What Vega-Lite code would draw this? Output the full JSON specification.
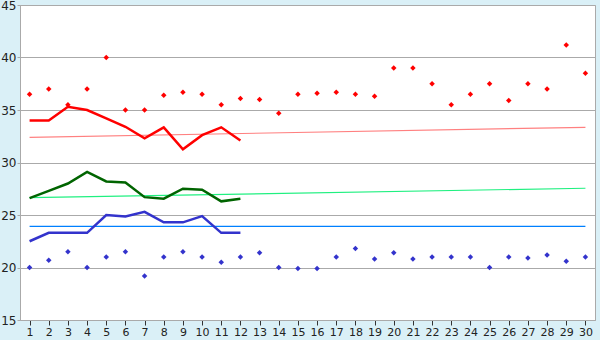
{
  "$schema": "https://vega.github.io/schema/vega-lite/v6.json",
  "width": 575,
  "height": 315,
  "padding": {"left": 20, "top": 5, "right": 5, "bottom": 20},
  "autosize": {"type": "none"},
  "background": "#daf0f7",
  "view": {"fill": "#ffffff", "stroke": "#aaaaaa", "strokeWidth": 1},
  "config": {
    "font": "DejaVu Sans",
    "axis": {"labelFont": "DejaVu Sans", "labelFontSize": 12, "labelColor": "#222222", "domainColor": "#aaaaaa", "tickColor": "#666666", "gridColor": "#aaaaaa", "gridOpacity": 1}
  },
  "datasets": {
    "days": [
      {"day": 1, "max": 36.5, "min": 20.0},
      {"day": 2, "max": 37.0, "min": 20.7},
      {"day": 3, "max": 35.5, "min": 21.5},
      {"day": 4, "max": 37.0, "min": 20.0},
      {"day": 5, "max": 40.0, "min": 21.0},
      {"day": 6, "max": 35.0, "min": 21.5},
      {"day": 7, "max": 35.0, "min": 19.2},
      {"day": 8, "max": 36.4, "min": 21.0},
      {"day": 9, "max": 36.7, "min": 21.5},
      {"day": 10, "max": 36.5, "min": 21.0},
      {"day": 11, "max": 35.5, "min": 20.5},
      {"day": 12, "max": 36.1, "min": 21.0},
      {"day": 13, "max": 36.0, "min": 21.4},
      {"day": 14, "max": 34.7, "min": 20.0},
      {"day": 15, "max": 36.5, "min": 19.9},
      {"day": 16, "max": 36.6, "min": 19.9},
      {"day": 17, "max": 36.7, "min": 21.0},
      {"day": 18, "max": 36.5, "min": 21.8},
      {"day": 19, "max": 36.3, "min": 20.8},
      {"day": 20, "max": 39.0, "min": 21.4},
      {"day": 21, "max": 39.0, "min": 20.8},
      {"day": 22, "max": 37.5, "min": 21.0},
      {"day": 23, "max": 35.5, "min": 21.0},
      {"day": 24, "max": 36.5, "min": 21.0},
      {"day": 25, "max": 37.5, "min": 20.0},
      {"day": 26, "max": 35.9, "min": 21.0},
      {"day": 27, "max": 37.5, "min": 20.9},
      {"day": 28, "max": 37.0, "min": 21.2},
      {"day": 29, "max": 41.2, "min": 20.6},
      {"day": 30, "max": 38.5, "min": 21.0}
    ],
    "lines": [
      {"day": 1, "series": "avgmax", "value": 34.0},
      {"day": 2, "series": "avgmax", "value": 34.0},
      {"day": 3, "series": "avgmax", "value": 35.3},
      {"day": 4, "series": "avgmax", "value": 35.0},
      {"day": 5, "series": "avgmax", "value": 34.2},
      {"day": 6, "series": "avgmax", "value": 33.4},
      {"day": 7, "series": "avgmax", "value": 32.3},
      {"day": 8, "series": "avgmax", "value": 33.35},
      {"day": 9, "series": "avgmax", "value": 31.25},
      {"day": 10, "series": "avgmax", "value": 32.6},
      {"day": 11, "series": "avgmax", "value": 33.35},
      {"day": 12, "series": "avgmax", "value": 32.1},
      {"day": 1, "series": "avgmean", "value": 26.6},
      {"day": 2, "series": "avgmean", "value": 27.3},
      {"day": 3, "series": "avgmean", "value": 28.0},
      {"day": 4, "series": "avgmean", "value": 29.1},
      {"day": 5, "series": "avgmean", "value": 28.2},
      {"day": 6, "series": "avgmean", "value": 28.1},
      {"day": 7, "series": "avgmean", "value": 26.7},
      {"day": 8, "series": "avgmean", "value": 26.55},
      {"day": 9, "series": "avgmean", "value": 27.5},
      {"day": 10, "series": "avgmean", "value": 27.4},
      {"day": 11, "series": "avgmean", "value": 26.3},
      {"day": 12, "series": "avgmean", "value": 26.55},
      {"day": 1, "series": "avgmin", "value": 22.5},
      {"day": 2, "series": "avgmin", "value": 23.3},
      {"day": 3, "series": "avgmin", "value": 23.3},
      {"day": 4, "series": "avgmin", "value": 23.3},
      {"day": 5, "series": "avgmin", "value": 25.0},
      {"day": 6, "series": "avgmin", "value": 24.85},
      {"day": 7, "series": "avgmin", "value": 25.3},
      {"day": 8, "series": "avgmin", "value": 24.3},
      {"day": 9, "series": "avgmin", "value": 24.3},
      {"day": 10, "series": "avgmin", "value": 24.9},
      {"day": 11, "series": "avgmin", "value": 23.3},
      {"day": 12, "series": "avgmin", "value": 23.3}
    ],
    "trends": [
      {"day": 1, "series": "trendmax", "value": 32.4},
      {"day": 30, "series": "trendmax", "value": 33.35},
      {"day": 1, "series": "trendmean", "value": 26.65},
      {"day": 30, "series": "trendmean", "value": 27.55},
      {"day": 1, "series": "trendmin", "value": 23.92},
      {"day": 30, "series": "trendmin", "value": 23.92}
    ]
  },
  "encoding": {
    "x": {
      "field": "day", "type": "quantitative",
      "scale": {"domain": [0.5, 30.5], "nice": false, "zero": false},
      "axis": {"title": null, "grid": false, "values": [1,2,3,4,5,6,7,8,9,10,11,12,13,14,15,16,17,18,19,20,21,22,23,24,25,26,27,28,29,30], "tickSize": 5, "labelPadding": 1, "labelFlush": false, "tickColor": "#333333", "labelFontSize": 11}
    }
  },
  "layer": [
    {
      "data": {"name": "trends"},
      "mark": {"type": "line", "strokeWidth": 1.2, "interpolate": "linear"},
      "encoding": {
        "y": {"field": "value", "type": "quantitative", "scale": {"domain": [15, 45], "nice": false, "zero": false}, "axis": {"title": null, "values": [15,20,25,30,35,40,45], "tickSize": 3, "labelPadding": 1, "tickColor": "#aaaaaa", "labelFlush": false, "labelFontSize": 12}},
        "detail": {"field": "series"},
        "color": {"field": "series", "type": "nominal", "scale": {"domain": ["trendmax", "trendmean", "trendmin"], "range": ["#ff8080", "#20f080", "#0080ff"]}, "legend": null}
      }
    },
    {
      "data": {"name": "lines"},
      "mark": {"type": "line", "strokeWidth": 2.5},
      "encoding": {
        "y": {"field": "value", "type": "quantitative"},
        "stroke": {"field": "series", "type": "nominal", "scale": {"domain": ["avgmax", "avgmean", "avgmin"], "range": ["#ff0000", "#006400", "#3333cc"]}, "legend": null}
      }
    },
    {
      "data": {"name": "days"},
      "mark": {"type": "point", "shape": "diamond", "filled": true, "size": 30, "color": "#ff0000", "opacity": 1},
      "encoding": {"y": {"field": "max", "type": "quantitative"}}
    },
    {
      "data": {"name": "days"},
      "mark": {"type": "point", "shape": "diamond", "filled": true, "size": 30, "color": "#3333cc", "opacity": 1},
      "encoding": {"y": {"field": "min", "type": "quantitative"}}
    }
  ]
}
